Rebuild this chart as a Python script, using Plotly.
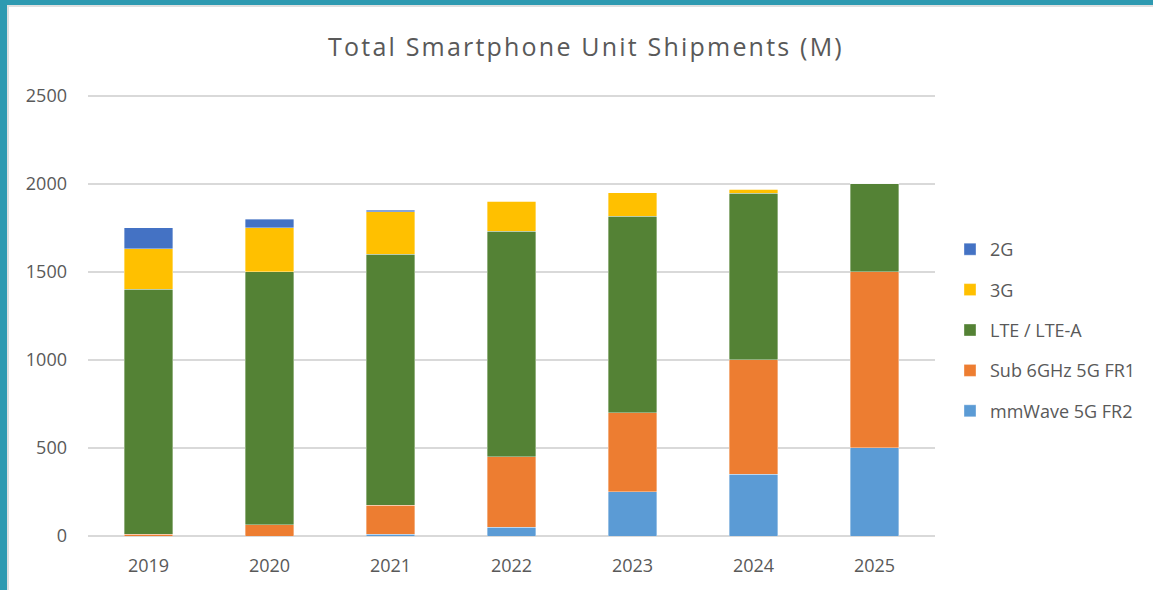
import plotly.graph_objects as go

years = ['2019', '2020', '2021', '2022', '2023', '2024', '2025']

# stacked bottom -> top
mmwave_5g = [0, 0, 10, 50, 250, 350, 500]
sub6_5g = [10, 65, 165, 400, 450, 650, 1000]
lte = [1390, 1435, 1425, 1280, 1115, 945, 500]
g3 = [230, 250, 240, 170, 135, 25, 0]
g2 = [120, 50, 10, 0, 0, 0, 0]

series = [
    ('mmWave 5G FR2', mmwave_5g, '#5B9BD5'),
    ('Sub 6GHz 5G FR1', sub6_5g, '#ED7D31'),
    ('LTE / LTE-A', lte, '#548235'),
    ('3G', g3, '#FFC000'),
    ('2G', g2, '#4472C4'),
]

W, H = 1153, 590
ML, MR, MT, MB = 88, 218, 94, 54
PW = W - ML - MR
PH = H - MT - MB
FONT = '"Open Sans", sans-serif'
GREY = '#595959'
YMAX = 2510  # a touch above 2500 so the top gridline is drawn

fig = go.Figure()
for i, (name, vals, col) in enumerate(series):
    fig.add_trace(go.Bar(
        x=years, y=vals, name=name, legendgroup=name, legendrank=len(series) - i,
        marker=dict(color=col, line=dict(color='rgba(255,255,255,0.6)', width=0.6)),
    ))


def px_x(p):
    return (p - ML) / PW


def px_y(p):
    return (H - MB - p) / PH


# teal window border at top and left
shapes = [
    dict(type='rect', xref='paper', yref='paper', x0=px_x(0), x1=px_x(W), y0=px_y(0), y1=px_y(5),
         fillcolor='#2E9AB1', line_width=0, layer='above'),
    dict(type='rect', xref='paper', yref='paper', x0=px_x(0), x1=px_x(7), y0=px_y(0), y1=px_y(H),
         fillcolor='#2E9AB1', line_width=0, layer='above'),
    dict(type='rect', xref='paper', yref='paper', x0=px_x(7), x1=px_x(W), y0=px_y(5), y1=px_y(7),
         fillcolor='#E0E0E0', line_width=0, layer='above'),
    dict(type='rect', xref='paper', yref='paper', x0=px_x(7), x1=px_x(9), y0=px_y(5), y1=px_y(H),
         fillcolor='#E0E0E0', line_width=0, layer='above'),
]

title = '<span style="letter-spacing:2.2px">Total Smartphone Unit Shipments (M)</span>'

fig.update_layout(
    width=W, height=H,
    barmode='stack', bargap=0.6,
    plot_bgcolor='white', paper_bgcolor='white',
    margin=dict(l=ML, r=MR, t=MT, b=MB),
    font=dict(family=FONT, color=GREY, size=18),
    title=dict(text=title, x=586 / W, xanchor='center',
               y=1 - 47 / H, yanchor='middle', font=dict(size=25, color=GREY, family=FONT)),
    xaxis=dict(showgrid=False, showline=False, ticks='', ticklabelstandoff=17,
               tickfont=dict(size=18, color=GREY)),
    yaxis=dict(range=[0, YMAX], tickvals=[0, 500, 1000, 1500, 2000, 2500],
               showgrid=True, gridcolor='#D9D9D9', gridwidth=1.5,
               zeroline=True, zerolinecolor='#D9D9D9', zerolinewidth=1.5,
               ticks='', ticklabelstandoff=20, tickfont=dict(size=18, color=GREY)),
    legend=dict(x=px_x(950), xanchor='left', y=px_y(330), yanchor='middle',
                traceorder='grouped', tracegroupgap=14,
                font=dict(size=18, color=GREY), itemwidth=30),
    shapes=shapes,
)

# the page body has an 8px default margin; drop it so the figure fills the window
fig.write_html('out.html', config={'displayModeBar': False},
               post_script="document.body.style.margin='0';")
